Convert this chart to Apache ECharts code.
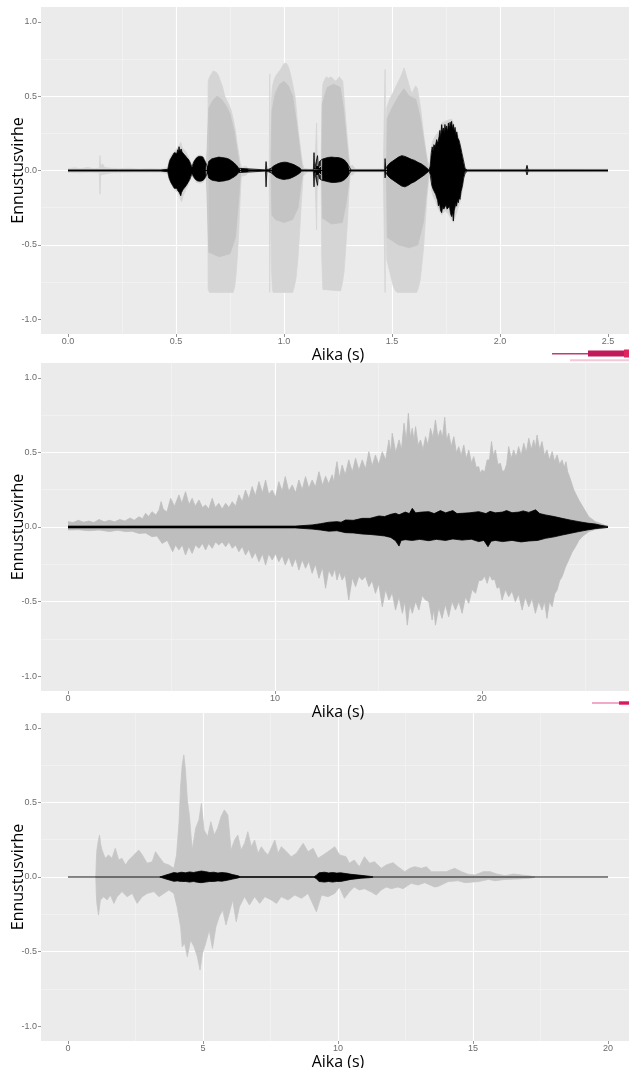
<!DOCTYPE html>
<html>
<head>
<meta charset="utf-8">
<script src="https://cdn.jsdelivr.net/npm/echarts@6/dist/echarts.min.js"></script>
<style>
  html, body { margin: 0; padding: 0; background: #ffffff; }
  #chart { width: 629px; height: 1068px; }
</style>
</head>
<body>
<div id="chart"></div>
<script>
// Envelopes of the signal (grey) and of the prediction error (black), [time s, value]

// ---- Panel 1: 0 - 2.5 s ----
const p1Length = 2.5;
const p1XTicks = [0, 0.5, 1.0, 1.5, 2.0, 2.5];
const p1GreyTop = [[0,0.012],[0.03,0.018],[0.06,0.012],[0.09,0.02],[0.12,0.012],[0.145,0.015],[0.148,0.10],[0.151,0.03],[0.16,0.045],[0.17,0.02],[0.2,0.015],[0.24,0.012],[0.28,0.015],[0.33,0.01],[0.38,0.012],[0.43,0.01],[0.46,0.02],
  [0.468,0.07],[0.48,0.11],[0.495,0.13],[0.505,0.15],[0.515,0.17],[0.522,0.19],[0.53,0.15],[0.545,0.13],[0.558,0.09],[0.568,0.05],[0.574,0.025],
  [0.58,0.06],[0.595,0.095],[0.61,0.105],[0.625,0.095],[0.638,0.06],[0.645,0.03],
  [0.647,0.05],[0.649,0.60],[0.656,0.63],[0.664,0.65],[0.672,0.67],[0.68,0.68],[0.688,0.66],[0.696,0.64],[0.706,0.60],[0.716,0.56],[0.726,0.50],[0.736,0.47],[0.746,0.44],[0.756,0.40],[0.766,0.34],[0.775,0.27],[0.783,0.18],[0.79,0.12],[0.797,0.05],[0.805,0.02],[0.825,0.03],[0.835,0.01],
  [0.914,0.008],[0.917,0.06],[0.921,0.01],[0.932,0.01],[0.934,0.65],[0.937,0.04],[0.941,0.45],[0.946,0.56],[0.952,0.60],[0.96,0.63],[0.968,0.65],[0.976,0.66],[0.984,0.68],[0.992,0.70],[1.0,0.72],[1.005,0.73],[1.012,0.72],[1.02,0.70],[1.028,0.66],[1.036,0.61],[1.044,0.55],[1.052,0.49],[1.06,0.36],[1.066,0.27],[1.072,0.2],[1.078,0.13],[1.085,0.05],[1.092,0.015],[1.10,0.025],[1.11,0.01],
  [1.135,0.01],[1.139,0.12],[1.143,0.015],[1.148,0.02],[1.151,0.32],[1.154,0.03],[1.157,0.1],[1.162,0.02],[1.172,0.03],
  [1.175,0.43],[1.18,0.58],[1.188,0.61],[1.196,0.63],[1.206,0.62],[1.216,0.63],[1.226,0.62],[1.236,0.60],[1.246,0.61],[1.256,0.63],[1.264,0.62],[1.272,0.6],[1.28,0.45],[1.287,0.32],[1.294,0.2],[1.30,0.1],[1.306,0.03],[1.318,0.035],[1.33,0.01],
  [1.46,0.01],[1.466,0.01],[1.468,0.68],[1.471,0.05],[1.476,0.42],[1.484,0.46],[1.492,0.49],[1.50,0.51],[1.51,0.54],[1.52,0.57],[1.53,0.60],[1.54,0.63],[1.548,0.66],[1.556,0.69],[1.562,0.68],[1.57,0.62],[1.578,0.58],[1.586,0.54],[1.594,0.52],[1.602,0.55],[1.61,0.57],[1.618,0.55],[1.626,0.48],[1.634,0.40],[1.642,0.30],[1.65,0.2],[1.658,0.12],[1.666,0.06],[1.674,0.04],
  [1.68,0.12],[1.686,0.19],[1.695,0.2],[1.70,0.23],[1.72,0.27],[1.73,0.32],[1.76,0.34],[1.776,0.345],[1.79,0.3],[1.81,0.22],[1.825,0.12],[1.838,0.02],
  [1.85,0.01],[2.0,0.01],[2.2,0.01],[2.5,0.01]];
const p1GreyBottom = [[0,-0.012],[0.05,-0.015],[0.1,-0.012],[0.145,-0.015],[0.148,-0.16],[0.151,-0.03],[0.16,-0.03],[0.2,-0.015],[0.3,-0.012],[0.43,-0.012],[0.46,-0.02],
  [0.468,-0.06],[0.48,-0.1],[0.495,-0.13],[0.51,-0.15],[0.52,-0.19],[0.526,-0.21],[0.533,-0.17],[0.545,-0.13],[0.558,-0.09],[0.568,-0.05],[0.574,-0.025],
  [0.58,-0.05],[0.595,-0.08],[0.61,-0.085],[0.625,-0.08],[0.638,-0.05],[0.645,-0.025],
  [0.647,-0.05],[0.649,-0.80],[0.655,-0.82],[0.765,-0.82],[0.772,-0.78],[0.778,-0.70],[0.784,-0.58],[0.79,-0.42],[0.796,-0.22],[0.802,-0.04],[0.825,-0.03],[0.835,-0.01],
  [0.914,-0.008],[0.917,-0.11],[0.921,-0.01],[0.932,-0.01],[0.934,-0.82],[0.937,-0.04],[0.941,-0.62],[0.946,-0.80],[0.95,-0.82],[1.04,-0.82],[1.048,-0.78],[1.056,-0.72],[1.064,-0.6],[1.072,-0.42],[1.08,-0.22],[1.088,-0.04],[1.1,-0.02],[1.11,-0.01],
  [1.135,-0.01],[1.139,-0.11],[1.143,-0.015],[1.148,-0.02],[1.151,-0.40],[1.154,-0.03],[1.157,-0.11],[1.162,-0.02],[1.172,-0.03],
  [1.175,-0.6],[1.18,-0.8],[1.186,-0.81],[1.262,-0.81],[1.27,-0.76],[1.278,-0.68],[1.286,-0.52],[1.294,-0.34],[1.30,-0.15],[1.306,-0.03],[1.318,-0.03],[1.33,-0.01],
  [1.46,-0.01],[1.466,-0.01],[1.468,-0.82],[1.471,-0.05],[1.476,-0.6],[1.486,-0.66],[1.496,-0.72],[1.506,-0.78],[1.516,-0.81],[1.526,-0.82],[1.614,-0.82],[1.622,-0.79],[1.63,-0.74],[1.638,-0.64],[1.646,-0.52],[1.654,-0.35],[1.662,-0.18],[1.67,-0.06],
  [1.678,-0.03],[1.684,-0.14],[1.692,-0.18],[1.70,-0.2],[1.715,-0.26],[1.73,-0.3],[1.745,-0.27],[1.76,-0.29],[1.784,-0.35],[1.80,-0.28],[1.815,-0.21],[1.825,-0.14],[1.835,-0.04],[1.84,-0.01],
  [2.0,-0.01],[2.5,-0.01]];
const p1CoreTop = [[0.64,0],[0.649,0],[0.652,0.42],[0.67,0.47],[0.69,0.5],[0.71,0.48],[0.73,0.44],[0.75,0.38],[0.77,0.26],[0.785,0.12],[0.795,0.02],[0.80,0],
  [0.94,0],[0.944,0.4],[0.96,0.52],[0.98,0.58],[1.0,0.6],[1.02,0.57],[1.04,0.5],[1.06,0.3],[1.075,0.12],[1.085,0.01],[1.09,0],
  [1.174,0],[1.178,0.45],[1.20,0.56],[1.23,0.58],[1.26,0.56],[1.275,0.42],[1.29,0.2],[1.302,0.02],[1.306,0],
  [1.474,0],[1.478,0.35],[1.50,0.42],[1.53,0.5],[1.555,0.55],[1.58,0.5],[1.61,0.48],[1.63,0.36],[1.65,0.18],[1.665,0.03],[1.67,0]];
const p1CoreBottom = [[0.64,0],[0.649,0],[0.652,-0.55],[0.70,-0.58],[0.75,-0.56],[0.775,-0.45],[0.79,-0.2],[0.80,0],
  [0.94,0],[0.944,-0.3],[0.96,-0.33],[1.0,-0.35],[1.04,-0.33],[1.065,-0.25],[1.08,-0.08],[1.09,0],
  [1.174,0],[1.178,-0.32],[1.22,-0.36],[1.27,-0.35],[1.29,-0.2],[1.306,0],
  [1.474,0],[1.478,-0.45],[1.53,-0.5],[1.58,-0.52],[1.62,-0.5],[1.645,-0.35],[1.665,-0.08],[1.67,0]];
const p1ErrTop = [[0,0.004],[0.235,0.004],[0.237,0.014],[0.24,0.004],[0.43,0.004],[0.432,0.016],[0.435,0.004],[0.462,0.008],
  [0.468,0.05],[0.472,0.07],[0.476,0.065],[0.48,0.09],[0.484,0.10],[0.488,0.09],[0.492,0.12],[0.496,0.11],[0.50,0.125],[0.504,0.115],[0.508,0.14],[0.511,0.12],[0.514,0.16],[0.517,0.13],[0.52,0.13],[0.524,0.145],[0.528,0.125],[0.532,0.13],[0.536,0.12],[0.54,0.105],[0.544,0.11],[0.548,0.09],[0.552,0.085],[0.556,0.08],[0.56,0.07],[0.564,0.06],[0.568,0.045],[0.574,0.02],
  [0.58,0.05],[0.585,0.065],[0.59,0.075],[0.595,0.085],[0.60,0.08],[0.605,0.095],[0.61,0.09],[0.615,0.095],[0.62,0.085],[0.625,0.09],[0.63,0.075],[0.635,0.065],[0.64,0.045],[0.646,0.02],
  [0.649,0.01],[0.651,0.06],[0.655,0.07],[0.66,0.065],[0.665,0.078],[0.67,0.072],[0.675,0.082],[0.68,0.076],[0.686,0.086],[0.692,0.08],[0.698,0.09],[0.704,0.082],[0.71,0.088],[0.716,0.08],[0.722,0.085],[0.728,0.078],[0.734,0.082],[0.74,0.072],[0.746,0.076],[0.752,0.066],[0.758,0.064],[0.764,0.055],[0.77,0.05],[0.776,0.04],[0.782,0.032],[0.79,0.015],[0.798,0.004],
  [0.914,0.004],[0.917,0.06],[0.921,0.004],
  [0.94,0.015],[0.946,0.025],[0.952,0.03],[0.958,0.035],[0.964,0.04],[0.97,0.043],[0.976,0.048],[0.982,0.046],[0.988,0.053],[0.994,0.05],[1.0,0.056],[1.006,0.052],[1.012,0.055],[1.018,0.05],[1.024,0.05],[1.03,0.044],[1.036,0.045],[1.042,0.04],[1.048,0.038],[1.054,0.032],[1.06,0.028],[1.066,0.022],[1.072,0.018],[1.082,0.004],
  [1.136,0.004],[1.139,0.12],[1.142,0.01],[1.15,0.02],[1.155,0.1],[1.159,0.015],
  [1.162,0.01],[1.164,0.06],[1.17,0.068],[1.176,0.075],[1.182,0.07],[1.19,0.082],[1.197,0.076],[1.205,0.088],[1.212,0.08],[1.22,0.09],[1.227,0.082],[1.235,0.088],[1.242,0.08],[1.25,0.087],[1.257,0.078],[1.265,0.082],[1.272,0.072],[1.28,0.07],[1.286,0.06],[1.292,0.05],[1.298,0.035],[1.304,0.02],[1.31,0.004],
  [1.466,0.004],[1.468,0.08],[1.471,0.01],
  [1.478,0.03],[1.484,0.04],[1.49,0.05],[1.495,0.055],[1.50,0.06],[1.507,0.065],[1.515,0.075],[1.522,0.08],[1.53,0.09],[1.537,0.088],[1.545,0.1],[1.552,0.092],[1.56,0.095],[1.567,0.088],[1.575,0.085],[1.582,0.078],[1.59,0.075],[1.597,0.072],[1.605,0.068],[1.612,0.06],[1.62,0.055],[1.627,0.05],[1.635,0.045],[1.642,0.036],[1.65,0.03],[1.662,0.015],[1.672,0.004],
  [1.677,0.03],[1.682,0.12],[1.686,0.159],[1.69,0.13],[1.694,0.174],[1.70,0.16],[1.707,0.208],[1.712,0.18],[1.718,0.23],[1.722,0.27],[1.726,0.22],[1.73,0.309],[1.734,0.26],[1.738,0.286],[1.742,0.25],[1.745,0.31],[1.749,0.27],[1.753,0.30],[1.757,0.26],[1.761,0.32],[1.765,0.28],[1.769,0.325],[1.772,0.29],[1.776,0.331],[1.78,0.28],[1.784,0.31],[1.788,0.26],[1.792,0.29],[1.796,0.24],[1.80,0.26],[1.804,0.22],[1.807,0.219],[1.811,0.2],[1.815,0.197],[1.819,0.15],[1.823,0.119],[1.83,0.074],[1.839,0.01],
  [1.85,0.004],[2.12,0.004],[2.125,0.035],[2.13,0.004],[2.5,0.004]];
const p1ErrBottom = [[0,-0.004],[0.235,-0.004],[0.237,-0.012],[0.24,-0.004],[0.43,-0.004],[0.432,-0.014],[0.435,-0.004],[0.462,-0.008],
  [0.468,-0.05],[0.472,-0.065],[0.476,-0.08],[0.48,-0.075],[0.484,-0.1],[0.488,-0.095],[0.492,-0.12],[0.496,-0.11],[0.50,-0.125],[0.504,-0.12],[0.508,-0.135],[0.512,-0.13],[0.516,-0.15],[0.519,-0.14],[0.522,-0.17],[0.525,-0.15],[0.528,-0.14],[0.532,-0.13],[0.536,-0.125],[0.54,-0.115],[0.544,-0.11],[0.548,-0.1],[0.552,-0.09],[0.556,-0.08],[0.56,-0.07],[0.564,-0.06],[0.568,-0.045],[0.574,-0.02],
  [0.58,-0.04],[0.585,-0.05],[0.59,-0.06],[0.595,-0.065],[0.60,-0.07],[0.605,-0.068],[0.61,-0.072],[0.615,-0.07],[0.62,-0.07],[0.625,-0.064],[0.63,-0.06],[0.635,-0.05],[0.64,-0.035],[0.646,-0.015],
  [0.649,-0.01],[0.651,-0.05],[0.655,-0.058],[0.66,-0.055],[0.665,-0.064],[0.67,-0.06],[0.675,-0.068],[0.68,-0.064],[0.686,-0.07],[0.692,-0.066],[0.698,-0.074],[0.704,-0.068],[0.71,-0.072],[0.716,-0.066],[0.722,-0.07],[0.728,-0.064],[0.734,-0.066],[0.74,-0.06],[0.746,-0.062],[0.752,-0.055],[0.758,-0.052],[0.764,-0.046],[0.77,-0.042],[0.776,-0.034],[0.782,-0.028],[0.79,-0.014],[0.798,-0.004],
  [0.914,-0.004],[0.917,-0.11],[0.921,-0.004],
  [0.94,-0.015],[0.946,-0.025],[0.952,-0.03],[0.958,-0.038],[0.964,-0.045],[0.97,-0.048],[0.976,-0.052],[0.982,-0.054],[0.988,-0.058],[0.994,-0.056],[1.0,-0.06],[1.006,-0.057],[1.012,-0.058],[1.018,-0.054],[1.024,-0.055],[1.03,-0.05],[1.036,-0.048],[1.042,-0.043],[1.048,-0.04],[1.054,-0.034],[1.06,-0.03],[1.066,-0.024],[1.072,-0.018],[1.082,-0.004],
  [1.136,-0.004],[1.139,-0.11],[1.142,-0.01],[1.15,-0.02],[1.155,-0.1],[1.159,-0.015],
  [1.162,-0.01],[1.164,-0.055],[1.17,-0.06],[1.176,-0.066],[1.182,-0.063],[1.19,-0.07],[1.197,-0.068],[1.205,-0.076],[1.212,-0.072],[1.22,-0.08],[1.227,-0.075],[1.235,-0.08],[1.242,-0.074],[1.25,-0.078],[1.257,-0.072],[1.265,-0.074],[1.272,-0.066],[1.28,-0.062],[1.286,-0.054],[1.292,-0.045],[1.298,-0.032],[1.304,-0.018],[1.31,-0.004],
  [1.466,-0.004],[1.468,-0.05],[1.471,-0.01],
  [1.478,-0.03],[1.484,-0.04],[1.49,-0.05],[1.495,-0.056],[1.50,-0.06],[1.507,-0.066],[1.515,-0.075],[1.522,-0.082],[1.53,-0.09],[1.537,-0.094],[1.545,-0.105],[1.552,-0.1],[1.56,-0.11],[1.567,-0.1],[1.575,-0.1],[1.582,-0.09],[1.59,-0.085],[1.597,-0.08],[1.605,-0.075],[1.612,-0.066],[1.62,-0.06],[1.627,-0.052],[1.635,-0.045],[1.642,-0.036],[1.65,-0.03],[1.662,-0.015],[1.672,-0.004],
  [1.677,-0.027],[1.684,-0.1],[1.691,-0.128],[1.696,-0.12],[1.702,-0.16],[1.707,-0.172],[1.711,-0.2],[1.715,-0.239],[1.72,-0.22],[1.725,-0.27],[1.73,-0.284],[1.735,-0.24],[1.74,-0.26],[1.745,-0.25],[1.75,-0.23],[1.755,-0.26],[1.761,-0.273],[1.766,-0.24],[1.771,-0.29],[1.776,-0.31],[1.78,-0.28],[1.784,-0.34],[1.788,-0.27],[1.792,-0.262],[1.796,-0.22],[1.799,-0.24],[1.803,-0.2],[1.807,-0.217],[1.811,-0.18],[1.815,-0.195],[1.82,-0.14],[1.826,-0.105],[1.832,-0.05],[1.839,-0.016],
  [1.85,-0.004],[2.12,-0.004],[2.125,-0.03],[2.13,-0.004],[2.5,-0.004]];

// ---- Panel 2: 0 - 26.1 s ----
const p2Length = 26.1;
const p2XTicks = [0, 10, 20];
const p2GreyTop = [[0,0.036],[0.25,0.03],[0.5,0.045],[0.75,0.032],[1.0,0.04],[1.25,0.03],[1.5,0.05],[1.75,0.035],[2.0,0.045],[2.25,0.035],[2.5,0.05],[2.75,0.04],[3.0,0.06],[3.2,0.045],[3.43,0.069],[3.6,0.055],[3.75,0.092],[3.9,0.07],[4.06,0.103],[4.25,0.08],[4.4,0.114],[4.5,0.17],[4.6,0.12],[4.78,0.1],[4.96,0.192],[5.15,0.14],[5.36,0.215],[5.5,0.16],[5.68,0.237],[5.85,0.15],[6.0,0.192],[6.15,0.14],[6.33,0.181],[6.5,0.13],[6.65,0.148],[6.8,0.12],[6.97,0.192],[7.12,0.13],[7.29,0.159],[7.45,0.12],[7.62,0.159],[7.78,0.13],[7.94,0.17],[8.1,0.14],[8.26,0.215],[8.42,0.17],[8.58,0.248],[8.74,0.19],[8.9,0.271],[9.06,0.21],[9.23,0.304],[9.4,0.23],[9.55,0.315],[9.7,0.22],[9.87,0.248],[10.03,0.2],[10.19,0.304],[10.35,0.24],[10.5,0.338],[10.67,0.24],[10.84,0.282],[11.0,0.23],[11.16,0.315],[11.32,0.25],[11.48,0.338],[11.64,0.26],[11.8,0.315],[11.96,0.27],[12.13,0.371],[12.3,0.28],[12.45,0.34],[12.6,0.29],[12.77,0.35],[12.85,0.3],[12.93,0.383],[13.0,0.438],[13.12,0.33],[13.25,0.416],[13.4,0.35],[13.57,0.45],[13.74,0.37],[13.9,0.461],[14.06,0.38],[14.22,0.45],[14.38,0.39],[14.54,0.505],[14.7,0.41],[14.86,0.483],[15.02,0.42],[15.19,0.505],[15.35,0.45],[15.51,0.584],[15.6,0.5],[15.67,0.629],[15.84,0.5],[16.0,0.584],[16.12,0.52],[16.24,0.696],[16.35,0.58],[16.45,0.763],[16.55,0.6],[16.64,0.662],[16.72,0.58],[16.8,0.673],[16.92,0.55],[17.04,0.584],[17.16,0.52],[17.28,0.606],[17.4,0.55],[17.52,0.662],[17.64,0.6],[17.76,0.718],[17.88,0.6],[18.0,0.651],[18.1,0.6],[18.21,0.736],[18.3,0.58],[18.4,0.629],[18.52,0.54],[18.65,0.606],[18.77,0.5],[18.89,0.539],[19.0,0.48],[19.13,0.55],[19.25,0.46],[19.37,0.517],[19.5,0.43],[19.61,0.472],[19.73,0.4],[19.85,0.405],[19.93,0.36],[20.01,0.383],[20.14,0.37],[20.26,0.45],[20.37,0.45],[20.47,0.573],[20.56,0.48],[20.66,0.517],[20.78,0.42],[20.9,0.427],[21.0,0.37],[21.11,0.383],[21.2,0.42],[21.3,0.539],[21.42,0.46],[21.54,0.517],[21.66,0.47],[21.78,0.539],[21.9,0.48],[22.03,0.562],[22.15,0.5],[22.27,0.595],[22.39,0.52],[22.51,0.584],[22.59,0.53],[22.67,0.617],[22.79,0.52],[22.91,0.573],[23.03,0.48],[23.15,0.517],[23.27,0.45],[23.4,0.505],[23.52,0.44],[23.64,0.483],[23.76,0.42],[23.88,0.45],[23.98,0.4],[24.07,0.438],[24.15,0.37],[24.24,0.338],[24.45,0.248],[24.69,0.181],[24.93,0.125],[25.17,0.069],[25.49,0.036],[25.81,0.02],[26.1,0.0]];
const p2GreyBottom = [[0,-0.02],[0.5,-0.018],[1.0,-0.025],[1.5,-0.02],[2.0,-0.03],[2.4,-0.022],[2.8,-0.031],[3.1,-0.028],[3.43,-0.043],[3.75,-0.04],[4.06,-0.065],[4.3,-0.06],[4.55,-0.11],[4.8,-0.09],[5.06,-0.166],[5.2,-0.12],[5.36,-0.154],[5.52,-0.12],[5.68,-0.188],[5.84,-0.13],[6.0,-0.177],[6.16,-0.12],[6.33,-0.143],[6.5,-0.11],[6.65,-0.154],[6.8,-0.11],[6.97,-0.143],[7.13,-0.1],[7.29,-0.121],[7.45,-0.1],[7.62,-0.132],[7.78,-0.1],[7.94,-0.143],[8.1,-0.12],[8.26,-0.166],[8.42,-0.13],[8.58,-0.188],[8.74,-0.15],[8.9,-0.21],[9.06,-0.17],[9.23,-0.233],[9.4,-0.18],[9.55,-0.255],[9.7,-0.18],[9.87,-0.221],[10.03,-0.18],[10.19,-0.233],[10.35,-0.19],[10.5,-0.255],[10.67,-0.2],[10.84,-0.266],[11.0,-0.21],[11.16,-0.289],[11.32,-0.22],[11.48,-0.277],[11.64,-0.23],[11.8,-0.311],[11.96,-0.25],[12.13,-0.344],[12.3,-0.27],[12.45,-0.411],[12.6,-0.29],[12.77,-0.333],[12.9,-0.28],[13.0,-0.356],[13.12,-0.3],[13.25,-0.356],[13.4,-0.32],[13.57,-0.49],[13.74,-0.34],[13.9,-0.4],[14.06,-0.33],[14.22,-0.356],[14.38,-0.33],[14.54,-0.4],[14.7,-0.36],[14.86,-0.445],[15.02,-0.38],[15.19,-0.535],[15.35,-0.42],[15.51,-0.49],[15.67,-0.44],[15.83,-0.557],[16.0,-0.47],[16.16,-0.579],[16.28,-0.5],[16.4,-0.658],[16.52,-0.52],[16.64,-0.579],[16.8,-0.5],[16.96,-0.557],[17.12,-0.46],[17.28,-0.49],[17.44,-0.5],[17.6,-0.624],[17.68,-0.55],[17.76,-0.658],[17.92,-0.54],[18.08,-0.613],[18.24,-0.52],[18.4,-0.602],[18.56,-0.5],[18.73,-0.557],[18.89,-0.5],[19.05,-0.579],[19.21,-0.47],[19.37,-0.512],[19.53,-0.42],[19.7,-0.445],[19.85,-0.36],[20.01,-0.356],[20.14,-0.33],[20.26,-0.378],[20.38,-0.32],[20.5,-0.356],[20.62,-0.35],[20.74,-0.411],[20.86,-0.4],[20.98,-0.49],[21.14,-0.42],[21.3,-0.468],[21.46,-0.43],[21.62,-0.501],[21.78,-0.45],[21.95,-0.557],[22.1,-0.47],[22.27,-0.535],[22.43,-0.48],[22.59,-0.579],[22.75,-0.5],[22.91,-0.557],[23.03,-0.5],[23.15,-0.613],[23.27,-0.5],[23.4,-0.535],[23.52,-0.45],[23.64,-0.423],[23.76,-0.36],[23.88,-0.333],[24.04,-0.27],[24.2,-0.221],[24.36,-0.17],[24.53,-0.132],[24.69,-0.09],[24.85,-0.065],[25.17,-0.031],[25.49,-0.016],[26.1,-0.002]];
const p2ErrTop = [[0,0.006],[11.0,0.006],[11.8,0.014],[12.2,0.022],[12.6,0.032],[13.0,0.036],[13.2,0.032],[13.41,0.047],[13.8,0.045],[14.22,0.058],[14.6,0.058],[15.03,0.074],[15.3,0.07],[15.6,0.085],[15.83,0.092],[16.0,0.082],[16.3,0.10],[16.5,0.09],[16.64,0.125],[16.8,0.095],[17.1,0.1],[17.44,0.103],[17.7,0.09],[18.0,0.11],[18.25,0.095],[18.6,0.11],[18.8,0.09],[19.05,0.092],[19.4,0.095],[19.85,0.103],[20.2,0.09],[20.4,0.105],[20.66,0.095],[21.0,0.1],[21.2,0.11],[21.46,0.096],[21.8,0.1],[22.0,0.108],[22.27,0.098],[22.6,0.115],[22.8,0.09],[23.08,0.081],[23.5,0.07],[23.88,0.058],[24.3,0.046],[24.69,0.036],[25.1,0.026],[25.49,0.02],[25.8,0.01],[26.1,0.004]];
const p2ErrBottom = [[0,-0.006],[11.0,-0.006],[11.8,-0.014],[12.2,-0.02],[12.6,-0.028],[13.0,-0.025],[13.41,-0.038],[13.8,-0.04],[14.22,-0.047],[14.6,-0.05],[15.03,-0.056],[15.3,-0.06],[15.6,-0.07],[15.83,-0.092],[16.0,-0.128],[16.1,-0.09],[16.3,-0.085],[16.64,-0.09],[17.0,-0.083],[17.44,-0.092],[17.8,-0.083],[18.25,-0.09],[18.6,-0.08],[19.05,-0.088],[19.5,-0.082],[19.85,-0.098],[20.1,-0.09],[20.3,-0.132],[20.45,-0.095],[20.66,-0.09],[21.0,-0.098],[21.46,-0.09],[21.9,-0.1],[22.27,-0.094],[22.7,-0.09],[23.08,-0.076],[23.5,-0.066],[23.88,-0.054],[24.3,-0.042],[24.69,-0.031],[25.1,-0.02],[25.49,-0.011],[26.1,-0.003]];

// ---- Panel 3: 0 - 20 s ----
const p3Length = 20;
const p3XTicks = [0, 5, 10, 15, 20];
const p3GreyTop = [[1.03,0],[1.05,0.12],[1.07,0.181],[1.12,0.24],[1.17,0.282],[1.21,0.22],[1.26,0.181],[1.38,0.125],[1.5,0.148],[1.63,0.125],[1.75,0.192],[1.88,0.114],[2.0,0.125],[2.13,0.081],[2.25,0.114],[2.44,0.148],[2.62,0.181],[2.75,0.148],[2.93,0.092],[3.12,0.103],[3.24,0.17],[3.37,0.136],[3.55,0.092],[3.74,0.081],[3.92,0.058],[4.02,0.148],[4.11,0.36],[4.17,0.606],[4.23,0.752],[4.29,0.819],[4.35,0.718],[4.42,0.517],[4.5,0.405],[4.6,0.181],[4.73,0.327],[4.85,0.383],[4.94,0.494],[5.04,0.315],[5.17,0.271],[5.29,0.371],[5.42,0.282],[5.54,0.327],[5.67,0.405],[5.79,0.45],[5.92,0.416],[6.04,0.181],[6.17,0.248],[6.29,0.282],[6.41,0.181],[6.54,0.226],[6.66,0.304],[6.79,0.203],[6.91,0.248],[7.04,0.159],[7.16,0.203],[7.29,0.17],[7.41,0.148],[7.66,0.248],[7.78,0.159],[7.9,0.203],[8.09,0.17],[8.27,0.136],[8.46,0.159],[8.71,0.226],[8.89,0.17],[9.08,0.192],[9.26,0.125],[9.45,0.148],[9.63,0.17],[9.88,0.203],[10.06,0.148],[10.3,0.136],[10.42,0.092],[10.6,0.114],[10.79,0.069],[10.98,0.136],[11.17,0.092],[11.35,0.103],[11.6,0.058],[11.79,0.081],[12.04,0.096],[12.22,0.069],[12.47,0.036],[12.66,0.058],[12.84,0.069],[13.09,0.058],[13.27,0.069],[13.46,0.036],[13.77,0.036],[14.01,0.036],[14.32,0.058],[14.57,0.036],[14.82,0.018],[15.07,0.013],[15.38,0.036],[15.63,0.036],[15.88,0.02],[16.19,0.009],[16.5,0.02],[16.81,0.013],[17.12,0.007],[17.3,0]];
const p3GreyBottom = [[1.03,0],[1.05,-0.12],[1.07,-0.177],[1.13,-0.255],[1.2,-0.154],[1.32,-0.132],[1.45,-0.154],[1.57,-0.121],[1.7,-0.177],[1.82,-0.132],[2.0,-0.098],[2.19,-0.132],[2.38,-0.11],[2.56,-0.177],[2.75,-0.132],[2.93,-0.11],[3.18,-0.098],[3.37,-0.132],[3.55,-0.11],[3.74,-0.087],[3.92,-0.11],[4.04,-0.199],[4.17,-0.333],[4.23,-0.468],[4.32,-0.445],[4.42,-0.535],[4.54,-0.423],[4.67,-0.468],[4.79,-0.535],[4.89,-0.624],[4.98,-0.512],[5.1,-0.445],[5.23,-0.356],[5.35,-0.479],[5.48,-0.333],[5.6,-0.266],[5.73,-0.221],[5.85,-0.322],[5.97,-0.244],[6.1,-0.154],[6.23,-0.3],[6.35,-0.199],[6.54,-0.132],[6.72,-0.188],[6.91,-0.132],[7.1,-0.177],[7.29,-0.132],[7.53,-0.154],[7.72,-0.177],[7.9,-0.132],[8.15,-0.154],[8.4,-0.121],[8.65,-0.143],[8.89,-0.11],[9.2,-0.233],[9.39,-0.121],[9.63,-0.132],[9.88,-0.11],[10.05,-0.067],[10.24,-0.143],[10.42,-0.1],[10.6,-0.067],[10.79,-0.087],[10.98,-0.078],[11.23,-0.1],[11.42,-0.121],[11.6,-0.087],[11.79,-0.067],[11.97,-0.078],[12.22,-0.067],[12.41,-0.078],[12.71,-0.042],[12.96,-0.054],[13.21,-0.038],[13.58,-0.067],[13.71,-0.063],[14.08,-0.031],[14.45,-0.025],[14.7,-0.038],[15.2,-0.031],[15.57,-0.016],[15.82,-0.025],[16.19,-0.016],[16.68,-0.013],[17.17,-0.007],[17.3,0]];
const p3ErrTop = [[3.4,0],[3.45,0.01],[3.6,0.012],[3.75,0.02],[3.92,0.03],[4.05,0.026],[4.2,0.032],[4.35,0.028],[4.5,0.034],[4.65,0.03],[4.8,0.036],[4.94,0.04],[5.1,0.036],[5.25,0.03],[5.4,0.032],[5.55,0.027],[5.7,0.03],[5.9,0.026],[6.1,0.016],[6.3,0.008],[6.4,0],
  [9.1,0],[9.2,0.012],[9.3,0.028],[9.5,0.032],[9.65,0.027],[9.8,0.03],[9.95,0.026],[10.1,0.028],[10.48,0.018],[10.86,0.011],[11.2,0.004],[11.3,0]];
const p3ErrBottom = [[3.4,0],[3.45,-0.01],[3.6,-0.012],[3.75,-0.02],[3.92,-0.029],[4.05,-0.026],[4.2,-0.03],[4.35,-0.03],[4.5,-0.034],[4.65,-0.03],[4.8,-0.036],[4.94,-0.038],[5.1,-0.034],[5.25,-0.03],[5.4,-0.03],[5.55,-0.026],[5.7,-0.028],[5.9,-0.022],[6.1,-0.014],[6.3,-0.006],[6.4,0],
  [9.1,0],[9.2,-0.012],[9.3,-0.03],[9.5,-0.034],[9.65,-0.03],[9.8,-0.034],[9.95,-0.03],[10.1,-0.03],[10.48,-0.016],[10.86,-0.008],[11.2,-0.004],[11.3,0]];

const yTicks = [-1.0, -0.5, 0.0, 0.5, 1.0];
const xTitle = 'Aika (s)';
const yTitle = 'Ennustusvirhe';

// ---- layout & styling ----
const PANEL_BG = '#EBEBEB';
const grids = [
  { left: 41, top: 7,   width: 594, height: 327 },
  { left: 41, top: 363, width: 594, height: 328 },
  { left: 41, top: 713, width: 594, height: 328 }
].map(g => Object.assign(g, {
  show: true, backgroundColor: PANEL_BG, borderWidth: 0,
  containLabel: false, outerBoundsMode: 'none'
}));

const tickText = { color: '#6b6b6b', fontSize: 9, fontFamily: 'Liberation Sans, Arial, sans-serif' };
const titleText = { color: '#000000', fontSize: 16, fontFamily: 'Open Sans, Noto Sans, sans-serif' };
const majorLine = { lineStyle: { color: '#ffffff', width: 1.1 }, showMinLine: false, showMaxLine: false };
const minorLine = { show: true, lineStyle: { color: '#f5f5f5', width: 0.6 } };

function xAxisFor(gi, length, ticks, splitNumber, digits) {
  return {
    type: 'value', gridIndex: gi, position: 'bottom',
    min: -0.05 * length, max: 1.05 * length, splitNumber: splitNumber,
    axisLine: { show: false, onZero: false },
    axisTick: { show: true, length: 3, customValues: ticks, lineStyle: { color: '#7a7a7a', width: 0.8 } },
    axisLabel: Object.assign({ margin: 3, customValues: ticks, formatter: v => v.toFixed(digits) }, tickText),
    splitLine: majorLine,
    minorTick: { show: false, splitNumber: 2 },
    minorSplitLine: minorLine,
    name: xTitle, nameLocation: 'middle', nameGap: 13, nameMoveOverlap: false, nameTextStyle: titleText
  };
}
function yAxisFor(gi) {
  return {
    type: 'value', gridIndex: gi, position: 'left',
    min: -1.1, max: 1.1, splitNumber: 4,
    axisLine: { show: false, onZero: false },
    axisTick: { show: true, length: 3, customValues: yTicks, lineStyle: { color: '#7a7a7a', width: 0.8 } },
    axisLabel: Object.assign({ margin: 4, customValues: yTicks, formatter: v => v.toFixed(1) }, tickText),
    splitLine: majorLine,
    minorTick: { show: false, splitNumber: 2 },
    minorSplitLine: minorLine,
    name: yTitle, nameLocation: 'middle', nameGap: 15, nameMoveOverlap: false, nameTextStyle: titleText
  };
}

// filled envelope between a curve and zero
function band(gi, data, color) {
  return {
    type: 'line', xAxisIndex: gi, yAxisIndex: gi, data: data,
    symbol: 'none', silent: true, smooth: false,
    lineStyle: { color: color, width: 0.8 },
    areaStyle: { color: color, opacity: 1 }
  };
}
function baseline(gi, length, color, width) {
  return {
    type: 'line', xAxisIndex: gi, yAxisIndex: gi, data: [[0, 0], [length, 0]],
    symbol: 'none', silent: true, lineStyle: { color: color, width: width }
  };
}

const series = [
  band(0, p1GreyTop, '#d5d5d5'), band(0, p1GreyBottom, '#d5d5d5'),
  band(0, p1CoreTop, '#c4c4c4'), band(0, p1CoreBottom, '#c4c4c4'),
  band(0, p1ErrTop, '#000000'), band(0, p1ErrBottom, '#000000'),
  baseline(0, p1Length, '#000000', 1),

  band(1, p2GreyTop, '#bebebe'), band(1, p2GreyBottom, '#bebebe'),
  band(1, p2ErrTop, '#000000'), band(1, p2ErrBottom, '#000000'),
  baseline(1, p2Length, '#000000', 1),

  band(2, p3GreyTop, '#c6c6c6'), band(2, p3GreyBottom, '#c6c6c6'),
  baseline(2, p3Length, 'rgba(0,0,0,0.45)', 2),
  band(2, p3ErrTop, '#000000'), band(2, p3ErrBottom, '#000000')
];

// coloured marks at the right margin below the first two panels
const edgeMarks = [
  { shape: { x: 552, y: 353, width: 77, height: 1.5 }, fill: '#c23a72' },
  { shape: { x: 588, y: 350.5, width: 41, height: 6 }, fill: '#c2185b' },
  { shape: { x: 624, y: 349.5, width: 5, height: 8 }, fill: '#e0245e' },
  { shape: { x: 570, y: 359.2, width: 59, height: 2 }, fill: '#f6c6d8' },
  { shape: { x: 592, y: 702, width: 28, height: 2 }, fill: '#f2a9c7' },
  { shape: { x: 619, y: 701.3, width: 10, height: 3.4 }, fill: '#d81b60' }
].map(m => ({ type: 'rect', silent: true, shape: m.shape, style: { fill: m.fill } }));

const chart = echarts.init(document.getElementById('chart'), null, { renderer: 'canvas' });
chart.setOption({
  animation: false,
  backgroundColor: '#ffffff',
  grid: grids,
  xAxis: [
    xAxisFor(0, p1Length, p1XTicks, 5, 1),
    xAxisFor(1, p2Length, p2XTicks, 3, 0),
    xAxisFor(2, p3Length, p3XTicks, 4, 0)
  ],
  yAxis: [yAxisFor(0), yAxisFor(1), yAxisFor(2)],
  series: series,
  graphic: edgeMarks
});
</script>
</body>
</html>
